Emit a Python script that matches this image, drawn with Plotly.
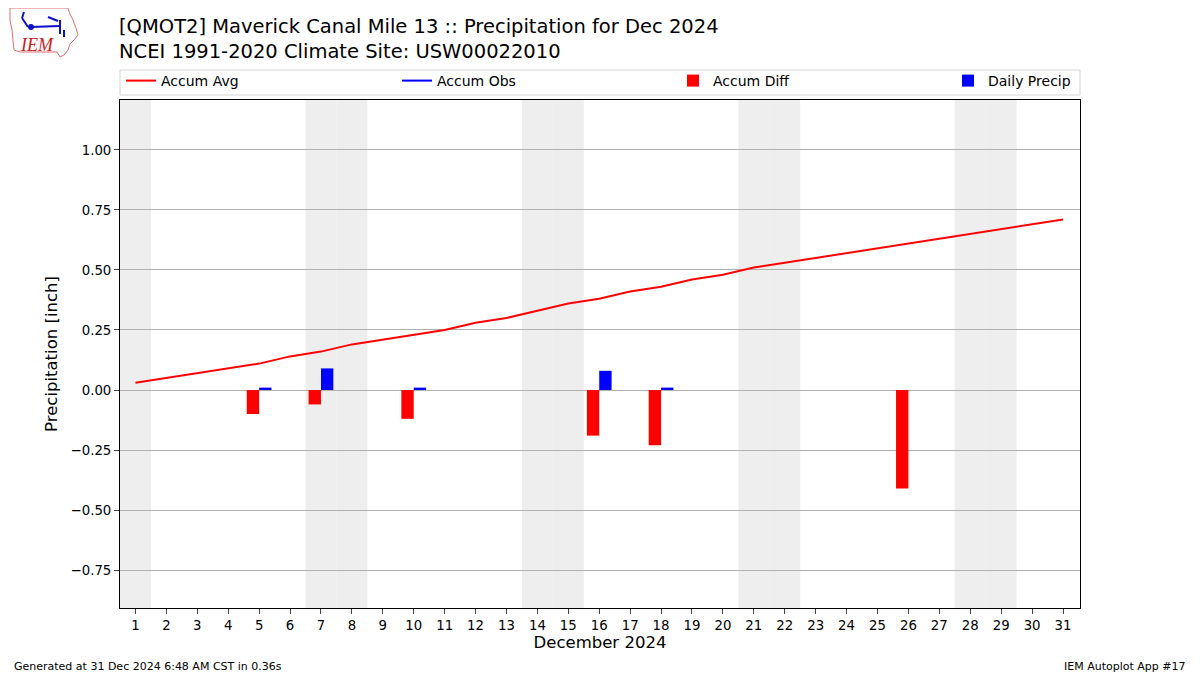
import datetime
import plotly.graph_objects as go

# ---- data ----
days = list(range(1, 32))
accum_avg = [0.03, 0.05, 0.07, 0.09, 0.11, 0.14, 0.16, 0.19, 0.21, 0.23,
             0.25, 0.28, 0.30, 0.33, 0.36, 0.38, 0.41, 0.43, 0.46, 0.48,
             0.51, 0.53, 0.55, 0.57, 0.59, 0.61, 0.63, 0.65, 0.67, 0.69, 0.71]
obs_days = [5, 7, 10, 16, 18, 26]
daily_precip = [0.01, 0.09, 0.01, 0.08, 0.01, 0.00]
accum_obs = [0.01, 0.10, 0.11, 0.19, 0.20, 0.20]
accum_diff = [-0.10, -0.06, -0.12, -0.19, -0.23, -0.41]

FONT = "DejaVu Sans, sans-serif"

# page is drawn with an 8px body margin, so the figure is shrunk by 8px
# and plot area stays at page x 120..1080, y 100..608
PAGE_OFF = 8
W, H = 1200 - PAGE_OFF, 675 - PAGE_OFF
L, T = 120 - PAGE_OFF, 100 - PAGE_OFF
PW, PH = 960, 508


def px(x, y):
    """page pixel -> paper coordinates"""
    return (x - 120) / PW, (608 - y) / PH


# accum obs only exists on report days -> gaps in between
obs_line = [None] * len(days)
for d, v in zip(obs_days, accum_obs):
    obs_line[d - 1] = v

fig = go.Figure()
fig.add_trace(go.Scatter(x=days, y=accum_avg, mode="lines", name="Accum Avg",
                         line=dict(color="red", width=2), legend="legend"))
fig.add_trace(go.Scatter(x=days, y=obs_line, mode="lines", name="Accum Obs",
                         line=dict(color="blue", width=2), connectgaps=False,
                         legend="legend2"))
fig.add_trace(go.Bar(x=obs_days, y=accum_diff, name="Accum Diff",
                     marker=dict(color="red", line=dict(width=0)),
                     width=0.4, offset=-0.4, legend="legend3"))
fig.add_trace(go.Bar(x=obs_days, y=daily_precip, name="Daily Precip",
                     marker=dict(color="blue", line=dict(width=0)),
                     width=0.4, offset=0, legend="legend4"))

# weekend shading
shapes = []
for d in days:
    if datetime.date(2024, 12, d).weekday() >= 5:
        shapes.append(dict(type="rect", xref="x", yref="paper", x0=d - 0.5, x1=d + 0.5,
                           y0=0, y1=1, fillcolor="#eeeeee", line=dict(width=0),
                           layer="below"))

# legend frame spanning the plot width
fx0, fy0 = px(120, 95)
fx1, fy1 = px(1080, 70)
shapes.append(dict(type="rect", xref="paper", yref="paper", x0=fx0, x1=fx1,
                   y0=fy0, y1=fy1, line=dict(color="#d6d6d6", width=1),
                   fillcolor="rgba(0,0,0,0)"))

# rough IEM logo (state outline + station glyph)
outline = [(10, 8), (68, 8), (70, 14), (73, 20), (76, 28), (78, 35), (74, 40),
           (70, 44), (68, 50), (64, 55), (60, 57), (57, 52), (20, 52), (14, 50),
           (13, 40), (12, 30), (10, 20)]
path = "M " + " L ".join("%.4f %.4f" % px(x, y) for x, y in outline) + " Z"
shapes.append(dict(type="path", xref="paper", yref="paper", path=path,
                   line=dict(color="#e07070", width=1)))
for (x0, y0), (x1, y1) in [((31, 27), (60, 26)), ((60, 20), (60, 34)),
                           ((48, 17), (58, 21)), ((22, 18), (28, 27)),
                           ((64, 30), (64, 37)), ((24, 12), (22, 18))]:
    a = px(x0, y0)
    b = px(x1, y1)
    shapes.append(dict(type="line", xref="paper", yref="paper", x0=a[0], y0=a[1],
                       x1=b[0], y1=b[1], line=dict(color="#1010cc", width=2)))
cx0, cy0 = px(28, 24)
cx1, cy1 = px(34, 30)
shapes.append(dict(type="circle", xref="paper", yref="paper", x0=cx0, y0=cy0,
                   x1=cx1, y1=cy1, fillcolor="#1010cc", line=dict(width=0)))

leg_y = px(0, 81)[1]
legend_common = dict(orientation="h", y=leg_y, yanchor="middle", xanchor="left",
                     font=dict(size=14, family=FONT), bgcolor="rgba(0,0,0,0)")

title_pos = px(120, 39.5)
g1 = px(12, 666)
g2 = px(1188, 666)
logo_t = px(37, 45)

fig.update_layout(
    width=W, height=H,
    margin=dict(l=L, r=W - L - PW, t=T, b=H - T - PH, pad=0),
    paper_bgcolor="white", plot_bgcolor="white",
    font=dict(family=FONT, size=13, color="black"),
    barmode="overlay",
    showlegend=True,
    legend=dict(x=px(121, 0)[0], **legend_common),
    legend2=dict(x=px(397, 0)[0], **legend_common),
    legend3=dict(x=px(673, 0)[0], **legend_common),
    legend4=dict(x=px(948, 0)[0], **legend_common),
    shapes=shapes,
    xaxis=dict(range=[0.5, 31.55], tickmode="array", tickvals=days,
               ticks="outside", ticklen=5, showgrid=False, zeroline=False,
               showline=True, linecolor="black", mirror=True,
               title=dict(text="December 2024", font=dict(size=16.5), standoff=4),
               tickfont=dict(size=13.3)),
    yaxis=dict(range=[-0.908, 1.208], tickvals=[-0.75, -0.5, -0.25, 0, 0.25, 0.5, 0.75, 1.0],
               tickformat=".2f", ticks="outside", ticklen=5,
               showgrid=True, gridcolor="#b0b0b0", zeroline=False,
               showline=True, linecolor="black", mirror=True,
               title=dict(text="Precipitation [inch]", font=dict(size=16.5), standoff=8),
               tickfont=dict(size=13.3)),
    annotations=[
        dict(text="[QMOT2] Maverick Canal Mile 13 :: Precipitation for Dec 2024<br>"
                  "NCEI 1991-2020 Climate Site: USW00022010",
             xref="paper", yref="paper", x=title_pos[0] - 0.002, y=title_pos[1],
             xanchor="left", yanchor="middle", align="left", borderpad=0,
             showarrow=False, font=dict(size=19.5)),
        dict(text="Generated at 31 Dec 2024 6:48 AM CST in 0.36s",
             xref="paper", yref="paper", x=g1[0], y=g1[1], xanchor="left",
             yanchor="middle", showarrow=False, font=dict(size=11)),
        dict(text="IEM Autoplot App #17",
             xref="paper", yref="paper", x=g2[0], y=g2[1], xanchor="right",
             yanchor="middle", showarrow=False, font=dict(size=11)),
        dict(text="<i>IEM</i>", xref="paper", yref="paper", x=logo_t[0], y=logo_t[1],
             xanchor="center", yanchor="middle", showarrow=False,
             font=dict(size=18, color="#cc2020", family="Liberation Serif, serif")),
    ],
)

fig.write_html("out.html")
